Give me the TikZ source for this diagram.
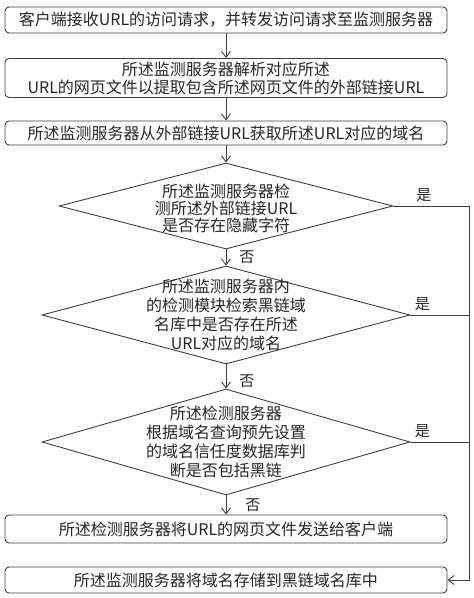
\documentclass[tikz,border=0pt]{standalone}
\usepackage{fontspec}
\setmainfont{Noto Sans CJK SC}
\usetikzlibrary{arrows.meta,positioning,shapes.geometric}

\begin{document}
\begin{tikzpicture}[
    x=1pt, y=-1pt,
    font=\fontsize{16}{18}\selectfont,
    stepbox/.style={rounded corners=4pt, draw=black!75, line width=0.9pt, minimum width=442pt, inner sep=2pt, align=center, text=black!85},
    decision/.style={diamond, draw=black!75, line width=0.9pt, inner sep=0pt},
    dtext/.style={align=center, text=black!85, font=\fontsize{16}{19}\selectfont},
    arr/.style={-{Straight Barb[length=6pt,width=9pt]}, draw=black!75, line width=0.9pt},
    link/.style={draw=black!75, line width=0.9pt},
    tag/.style={font=\fontsize{15}{16}\selectfont, inner sep=1pt, text=black!85},
  ]
    \useasboundingbox[fill=white] (0,0) rectangle (474,598);

    \node[stepbox, minimum height=26pt] (recv) at (226,20)
      {客户端接收URL的访问请求，并转发访问请求至监测服务器};
    \node[stepbox, minimum height=39pt] (parse) at (226,78)
      {所述监测服务器解析对应所述\\URL的网页文件以提取包含所述网页文件的外部链接URL};
    \node[stepbox, minimum height=24pt] (domain) at (226,133)
      {所述监测服务器从外部链接URL获取所述URL对应的域名};

    \node[decision, minimum width=334pt, minimum height=86pt,
      label={[dtext, font=\fontsize{16}{17}\selectfont, yshift=-2pt]center:所述监测服务器检\\测所述外部链接URL\\是否存在隐藏字符}] (hidden) at (226,206) {};
    \node[decision, minimum width=368pt, minimum height=98pt,
      label={[dtext]center:所述监测服务器内\\的检测模块检索黑链域\\名库中是否存在所述\\URL对应的域名}] (blackdb) at (226,315) {};
    \node[decision, minimum width=368pt, minimum height=106pt,
      label={[dtext]center:所述检测服务器\\根据域名查询预先设置\\的域名信任度数据库判\\断是否包括黑链}] (trust) at (226,442) {};

    \node[stepbox, minimum height=28pt] (send) at (226,529)
      {所述检测服务器将URL的网页文件发送给客户端};
    \node[stepbox, minimum height=26pt] (store) at (226,580)
      {所述监测服务器将域名存储到黑链域名库中};

    \coordinate[right=22pt of store.east] (yesend);

    \draw[arr] (recv) -- (parse);
    \draw[arr] (parse) -- (domain);
    \draw[arr] (domain) -- (hidden);
    \draw[arr] (hidden) -- node[tag, right=12pt] {否} (blackdb);
    \draw[arr] (blackdb) -- node[tag, right=12pt, yshift=-5pt] {否} (trust);
    \draw[arr] (trust) -- node[tag, right=18pt] {否} (send);

    % yes branch runs down the right edge to the last box
    \draw[arr] (hidden.east) -- node[tag, pos=0.4, above=3pt] {是} (hidden.east -| yesend)
      -- (yesend) -- (store.east);
    \draw[link] (blackdb.east) -- node[tag, pos=0.2, above=3pt] {是} (blackdb.east -| yesend);
    \draw[link] (trust.east) -- node[tag, pos=0.2, above=3pt] {是} (trust.east -| yesend);
  \end{tikzpicture}
\end{document}
